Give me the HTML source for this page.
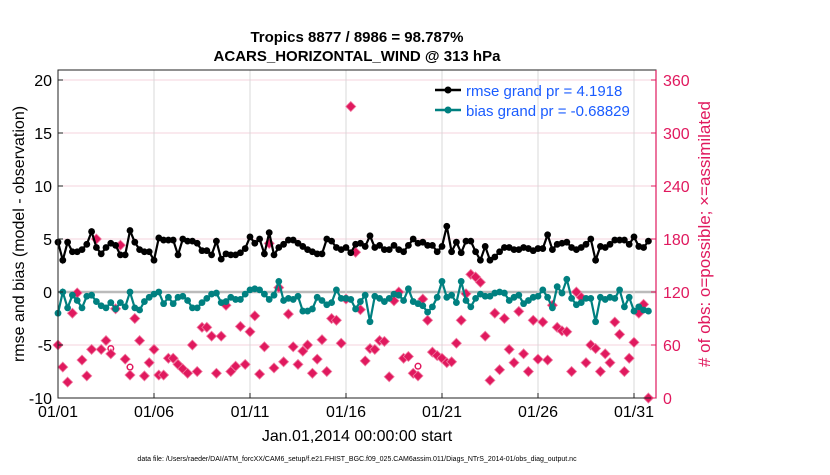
<!DOCTYPE html>
<html><head><meta charset="utf-8"><style>
body{margin:0;background:#fff;}
svg text{font-family:"Liberation Sans",Arial,sans-serif;}
</style></head><body>
<svg id="chart" width="830" height="470" viewBox="0 0 830 470" xmlns="http://www.w3.org/2000/svg">
<text x="357" y="42" text-anchor="middle" font-size="15" font-weight="bold">Tropics 8877 / 8986 = 98.787%</text>
<text x="357" y="61" text-anchor="middle" font-size="15" font-weight="bold">ACARS_HORIZONTAL_WIND @ 313 hPa</text>
<g id="grid"></g>
<g id="marks"></g>
<rect x="58" y="70" width="598" height="328" fill="none" stroke="#222" stroke-width="1"/>
<line x1="656" y1="70" x2="656" y2="398" stroke="#e0195e" stroke-width="1.2"/>
<g id="axes"></g>
<text transform="translate(24,234) rotate(-90)" text-anchor="middle" font-size="16">rmse and bias (model - observation)</text>
<text transform="translate(710,234) rotate(-90)" text-anchor="middle" font-size="17" fill="#e0195e"># of obs: o=possible; ×=assimilated</text>
<text x="357" y="441" text-anchor="middle" font-size="16">Jan.01,2014 00:00:00 start</text>
<text x="357" y="461" text-anchor="middle" font-size="7">data file: /Users/raeder/DAI/ATM_forcXX/CAM6_setup/f.e21.FHIST_BGC.f09_025.CAM6assim.011/Diags_NTrS_2014-01/obs_diag_output.nc</text>
<g>
<line x1="435" y1="90" x2="461" y2="90" stroke="#000" stroke-width="2.5"/><circle cx="448" cy="90" r="3.5" fill="#000"/>
<text x="466" y="96" font-size="15" fill="#1a5cff">rmse grand pr = 4.1918</text>
<line x1="435" y1="110" x2="461" y2="110" stroke="#008080" stroke-width="2.5"/><circle cx="448" cy="110" r="3.5" fill="#008080"/>
<text x="466" y="116" font-size="15" fill="#1a5cff">bias grand pr = -0.68829</text>
</g>
</svg>
<script>
const xTickLabels=["01/01","01/06","01/11","01/16","01/21","01/26","01/31"];
const xTickDays=[0,5,10,15,20,25,30];
const yTicksLeft=[-10,-5,0,5,10,15,20];
const yTicksRight=[0,60,120,180,240,300,360];
const rmse=[4.7,3.0,4.7,3.8,3.8,4.0,4.5,5.7,4.2,3.6,4.2,4.6,4.4,3.5,3.5,5.8,4.7,4.0,3.8,3.8,3.0,5.1,4.9,4.9,4.9,3.5,5.0,4.8,4.8,4.6,3.9,3.9,3.5,4.8,3.1,3.6,3.5,3.5,3.7,4.1,
5.2,4.6,5.0,3.6,5.6,3.5,4.2,4.5,4.9,4.9,4.6,4.3,4.0,3.8,3.6,3.6,5.0,4.8,4.2,4.0,
4.2,3.7,4.5,4.6,4.3,5.3,4.2,4.4,4.0,4.0,4.4,4.0,3.8,4.4,5.0,4.6,4.7,4.4,4.4,3.8,
4.3,6.2,3.8,4.7,3.7,4.8,4.8,3.8,3.0,4.3,3.0,3.3,3.8,4.2,4.2,4.0,4.0,4.2,4.1,3.9,
4.1,4.1,5.4,4.0,4.5,4.6,4.7,4.2,4.0,4.2,4.5,5.0,3.0,4.3,4.2,4.5,4.9,4.9,4.9,4.5,5.2,4.3,4.2,4.8];
const bias=[-2.0,0.0,-1.5,-0.3,-0.8,-1.5,-0.4,-0.3,-0.9,-1.3,-1.5,-1.0,-1.6,-1.0,-1.4,0.0,-1.5,-1.7,-0.9,-0.5,-0.2,0.0,-1.1,-0.5,-1.1,-0.5,-0.4,-0.8,-1.5,-1.5,-1.0,-0.6,-0.2,-0.1,-1.0,-0.9,-0.5,-0.7,-0.7,-0.2,
0.2,0.3,0.2,-0.2,-0.7,-0.3,1.0,-0.8,-0.6,-0.7,-0.4,-1.8,-1.8,-1.6,-0.5,-0.8,-1.2,-1.0,0.2,-0.6,
-0.6,-0.7,-1.6,-0.9,-0.3,-2.8,-0.4,-0.6,-0.9,-0.6,-0.2,-0.3,-0.8,0.3,-0.9,-1.1,-1.3,-1.9,-1.4,-0.5,
1.0,-0.5,-0.3,-1.0,1.0,-0.8,-1.4,-0.6,-0.2,-0.4,-0.4,-0.1,0.0,-0.1,-0.8,-0.5,-0.3,-1.1,-0.8,-0.5,
-0.4,0.2,-0.5,-1.5,0.5,-0.1,1.2,-0.6,-1.2,-1.0,-0.6,-0.6,-2.8,-0.5,-0.7,-0.5,-0.6,0.2,-1.4,-0.5,-1.8,-1.4,-1.7,-1.8];
const obsUsed=[60,35,18,96,119,43,25,55,180,55,65,50,101,173,44,26,90,65,25,40,55,26,26,45,45,38,33,28,60,30,80,80,70,28,70,105,30,36,81,38,
75,93,27,58,175,34,125,41,95,58,38,53,60,28,44,66,30,90,88,62,
112,330,165,100,42,56,55,65,64,24,110,120,45,47,28,25,112,88,52,48,
45,40,41,62,88,118,140,137,131,70,20,96,32,90,55,40,98,50,30,88,
44,86,43,105,80,76,75,30,120,114,40,60,56,30,50,40,86,72,30,45,63,96,106,0];
const obsPossible=[60,35,18,96,119,43,25,55,180,55,65,56,101,173,44,35,90,65,25,40,55,26,26,45,45,38,33,28,60,30,80,80,70,28,70,105,30,36,81,38,
75,93,27,58,175,34,125,41,95,58,38,53,60,28,44,66,30,90,88,62,
112,330,165,100,42,56,55,65,64,24,110,120,45,47,28,36,112,88,52,48,
45,40,41,62,88,118,140,137,131,70,20,96,32,90,55,40,98,50,30,88,
44,86,43,105,80,76,75,30,120,114,40,60,56,30,50,40,86,72,30,45,63,96,106,0];

const NS="http://www.w3.org/2000/svg";
const X0=58,PXD=19.2,YB=398,PXU=10.6;
function xDay(d){return X0+d*PXD;}
function yL(v){return YB-(v+10)*PXU;}
function yR(n){return yL(n/12-10);}
function el(tag,attrs,parent){const e=document.createElementNS(NS,tag);for(const k in attrs)e.setAttribute(k,attrs[k]);parent.appendChild(e);return e;}
const grid=document.getElementById('grid'),marks=document.getElementById('marks'),axes=document.getElementById('axes');

yTicksLeft.forEach(v=>{const y=yL(v);
 if(v!==-10&&v!==0){const g=el('line',{x1:X0,x2:656,y1:y,y2:y,stroke:'#f6d3de','stroke-width':1},grid);
 
 }
 el('line',{x1:X0,x2:X0+5,y1:y,y2:y,stroke:'#222'},axes);
 const t=el('text',{x:X0-6,y:y+6,'text-anchor':'end','font-size':16},axes);t.textContent=v;
 
 
});
yTicksRight.forEach(n=>{const y=yR(n);
 el('line',{x1:651,x2:656,y1:y,y2:y,stroke:'#e0195e'},axes);
 const t=el('text',{x:663,y:y+6,'font-size':16,fill:'#e0195e'},axes);t.textContent=n;
 
 
});
const zl=el('line',{x1:X0,x2:656,y1:yL(0),y2:yL(0),stroke:'#bbb','stroke-width':2.5},grid);


xTickDays.forEach((d,i)=>{const x=xDay(d);
 if(d>0){const g=el('line',{x1:x,x2:x,y1:70,y2:398,stroke:'#d8d8d8','stroke-width':1},grid);
 
 }
 el('line',{x1:x,x2:x,y1:393,y2:398,stroke:'#222'},axes);
 const t=el('text',{x:x,y:417,'text-anchor':'middle','font-size':16},axes);t.textContent=xTickLabels[i];
 
 
});

obsPossible.forEach((n,i)=>{ if(n!==obsUsed[i]){const c=el('circle',{cx:xDay(i*0.25),cy:yR(n),r:2.8,fill:'none',stroke:'#e0195e','stroke-width':1.5},marks);
 
 }});
obsUsed.forEach((n,i)=>{const x=xDay(i*0.25),y=yR(n);
 const p=el('path',{d:`M${x} ${y-5}L${x+5} ${y}L${x} ${y+5}L${x-5} ${y}Z`,fill:'#e0195e',stroke:'#f07aa0','stroke-width':0.8},marks);
 
 
});
function series(vals,color,name){
 const pts=vals.map((v,i)=>xDay(i*0.25)+','+yL(v)).join(' ');
 const pl=el('polyline',{points:pts,fill:'none',stroke:color,'stroke-width':2.2},marks);
 
 
 vals.forEach((v,i)=>{const c=el('circle',{cx:xDay(i*0.25),cy:yL(v),r:3.4,fill:color},marks);
 
 });
}
series(bias,'#008080','bias');
series(rmse,'#000000','rmse');
</script>
</body></html>
